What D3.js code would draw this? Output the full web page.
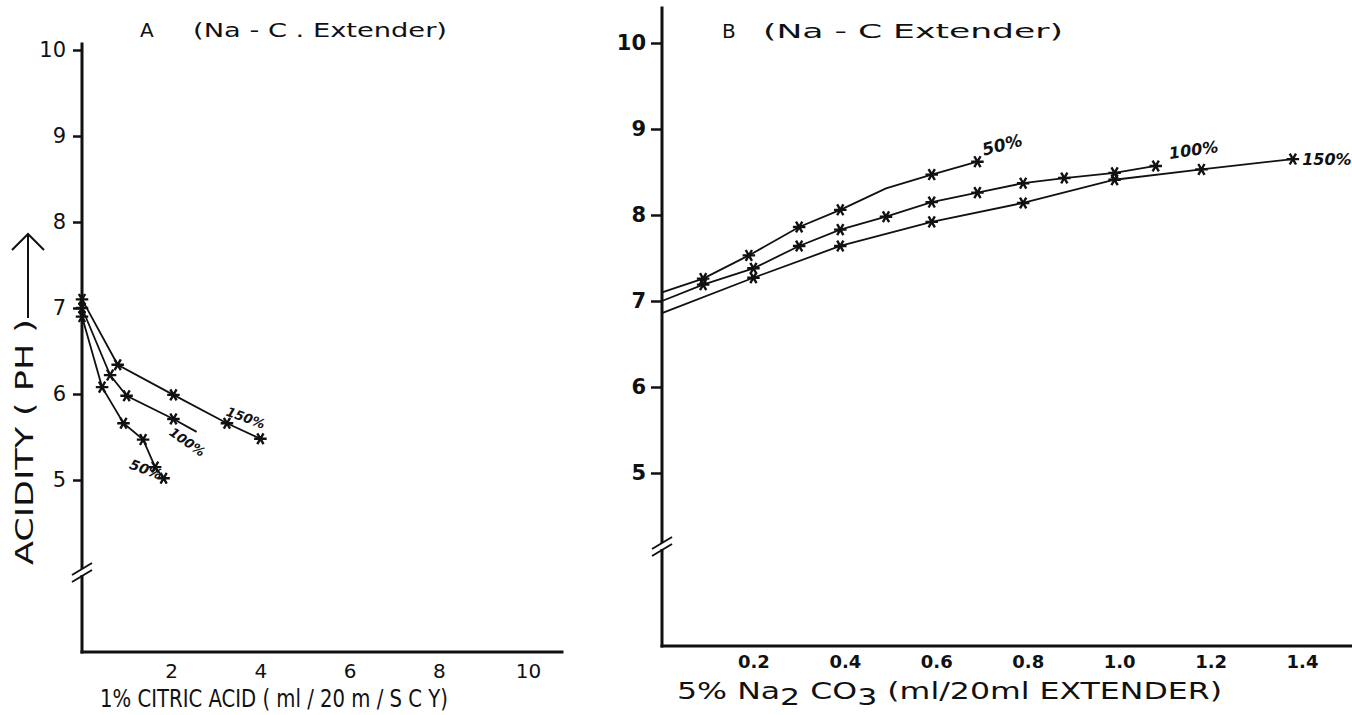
<!DOCTYPE html>
<html>
<head>
<meta charset="utf-8">
<script src="https://cdn.jsdelivr.net/npm/d3@7"></script>
<style>
  body { margin: 0; background: #fff; }
  svg { display: block; }
  text { font-family: "DejaVu Sans", sans-serif; fill: #111; }
</style>
</head>
<body>
<svg id="chart" width="1352" height="715"></svg>
<script>
// ---- data ----
// panel A : 1% citric acid added, pH per dilution
var citricX150 = [0, 0.8, 2.05, 3.25, 4.0];
var citricPH150 = [7.1, 6.34, 5.99, 5.66, 5.48];
var citricX100 = [0, 0.63, 1.0, 2.05, 2.57];
var citricPH100 = [7.0, 6.22, 5.98, 5.71, 5.56];
var citricX50 = [0, 0.45, 0.93, 1.37, 1.64, 1.83];
var citricPH50 = [6.9, 6.08, 5.66, 5.47, 5.15, 5.02];

// panel B : 5% Na2CO3 added
var sodaX50 = [0, 0.09, 0.19, 0.30, 0.39, 0.49, 0.59, 0.69];
var sodaPH50 = [7.1, 7.26, 7.53, 7.86, 8.06, 8.31, 8.47, 8.62];
var sodaX100 = [0, 0.09, 0.2, 0.3, 0.39, 0.49, 0.59, 0.69, 0.79, 0.88, 0.99, 1.08];
var sodaPH100 = [7.0, 7.19, 7.38, 7.64, 7.83, 7.98, 8.15, 8.26, 8.37, 8.43, 8.49, 8.57];
var sodaX150 = [0, 0.2, 0.39, 0.59, 0.79, 0.99, 1.18, 1.38];
var sodaPH150 = [6.86, 7.27, 7.64, 7.92, 8.14, 8.41, 8.53, 8.65];

var phTicks = [5, 6, 7, 8, 9, 10];
var citricTicks = [2, 4, 6, 8, 10];
var sodaTicks = [0.2, 0.4, 0.6, 0.8, 1.0, 1.2, 1.4];

var svg = d3.select("#chart");
var ink = "#111";

// scales
var xA = d3.scaleLinear().domain([0, 10]).range([82, 528]);
var yA = d3.scaleLinear().domain([5, 10]).range([480, 50]);
var xB = d3.scaleLinear().domain([0, 1.4]).range([662, 1302]);
var yB = d3.scaleLinear().domain([5, 10]).range([473, 43]);

function axisLine(x1, y1, x2, y2) {
  svg.append("line")
    .attr("x1", x1).attr("y1", y1).attr("x2", x2).attr("y2", y2)
    .attr("stroke", ink).attr("stroke-width", 3).attr("stroke-linecap", "square");
}

function breakMark(x, y) {
  svg.append("rect").attr("x", x - 3).attr("y", y - 3).attr("width", 6).attr("height", 6).attr("fill", "#fff");
  [-3, 4].forEach(function(o) {
    svg.append("line")
      .attr("x1", x - 10).attr("y1", y + o + 6).attr("x2", x + 10).attr("y2", y + o - 6)
      .attr("stroke", ink).attr("stroke-width", 2);
  });
}

function styleAxis(g, size, weight) {
  g.select(".domain").remove();
  g.selectAll("text").attr("font-family", "DejaVu Sans, sans-serif")
    .attr("font-size", size).attr("font-weight", weight).attr("fill", ink);
  g.selectAll("line").attr("stroke", ink).attr("stroke-width", 2.5);
}

function drawSeries(xs, ys, sx, sy, skip) {
  var pts = xs.map(function(v, i) { return [v, ys[i]]; });
  var line = d3.line()
    .x(function(d) { return sx(d[0]); })
    .y(function(d) { return sy(d[1]); });
  svg.append("path").datum(pts)
    .attr("d", line).attr("fill", "none").attr("stroke", ink).attr("stroke-width", 1.8);
  svg.append("g").selectAll("path")
    .data(pts.filter(function(d, i) { return skip.indexOf(i) < 0; }))
    .enter().append("path")
    .attr("d", d3.symbol().type(d3.symbolAsterisk).size(110))
    .attr("transform", function(d) { return "translate(" + sx(d[0]) + "," + sy(d[1]) + ") rotate(30)"; })
    .attr("fill", "none").attr("stroke", ink).attr("stroke-width", 2.4);
  return pts[pts.length - 1];
}

function seriesLabel(txt, pt, sx, sy, dx, dy, rot, size) {
  svg.append("text")
    .attr("transform", "translate(" + (sx(pt[0]) + dx) + "," + (sy(pt[1]) + dy) + ") rotate(" + rot + ")")
    .attr("text-anchor", "middle").attr("dominant-baseline", "middle")
    .attr("font-size", size).attr("font-weight", "bold").attr("font-style", "italic")
    .text(txt);
}

// ---------- panel A ----------
axisLine(xA(0), 44, xA(0), 652);
axisLine(xA(0), 652, 562, 652);
breakMark(xA(0), 572);

svg.append("g")
  .attr("transform", "translate(" + xA(0) + ",0)")
  .call(d3.axisLeft(yA).tickValues(phTicks).tickFormat(d3.format("d")).tickSize(9).tickPadding(7))
  .call(styleAxis, 21, "normal");

svg.append("g")
  .attr("transform", "translate(0,652)")
  .call(d3.axisBottom(xA).tickValues(citricTicks).tickFormat(d3.format("d")).tickSize(0).tickPadding(12))
  .call(styleAxis, 20, "normal");

var endA150 = drawSeries(citricX150, citricPH150, xA, yA, []);
var endA100 = drawSeries(citricX100, citricPH100, xA, yA, [4]);
var endA50 = drawSeries(citricX50, citricPH50, xA, yA, []);
seriesLabel("150%", endA150, xA, yA, -15, -20, 20, 13);
seriesLabel("100%", endA100, xA, yA, -10, 11, 35, 13);
seriesLabel("50%", endA50, xA, yA, -18, -8, 20, 14);

svg.append("text").attr("x", 140).attr("y", 37).attr("font-size", 20).text("A");
svg.append("text").attr("x", 193).attr("y", 37).attr("font-size", 20)
  .attr("textLength", 254).attr("lengthAdjust", "spacingAndGlyphs")
  .text("(Na - C . Extender)");

svg.append("text").attr("x", 100).attr("y", 707).attr("font-size", 25)
  .attr("textLength", 348).attr("lengthAdjust", "spacingAndGlyphs")
  .text("1%  CITRIC  ACID ( ml / 20 m / S C Y)");

// y label with upward arrow
svg.append("text")
  .attr("transform", "translate(33,565) rotate(-90)")
  .attr("font-size", 24)
  .attr("textLength", 246).attr("lengthAdjust", "spacingAndGlyphs")
  .text("ACIDITY  ( PH )");
svg.append("path")
  .attr("d", "M28,318 L28,234 M12,250 L28,234 L44,250")
  .attr("fill", "none").attr("stroke", ink).attr("stroke-width", 2);

// ---------- panel B ----------
axisLine(xB(0), 8, xB(0), 646);
axisLine(xB(0), 646, 1352, 646);
breakMark(xB(0), 546);

svg.append("g")
  .attr("transform", "translate(" + xB(0) + ",0)")
  .call(d3.axisLeft(yB).tickValues(phTicks).tickFormat(d3.format("d")).tickSize(11).tickPadding(5))
  .call(styleAxis, 21, "bold");

svg.append("g")
  .attr("transform", "translate(0,646)")
  .call(d3.axisBottom(xB).tickValues(sodaTicks).tickFormat(d3.format(".1f")).tickSize(0).tickPadding(9))
  .call(styleAxis, 18, "bold");

var endB50 = drawSeries(sodaX50, sodaPH50, xB, yB, [0, 5]);
var endB100 = drawSeries(sodaX100, sodaPH100, xB, yB, [0]);
var endB150 = drawSeries(sodaX150, sodaPH150, xB, yB, [0]);
seriesLabel("50%", endB50, xB, yB, 25, -16, -15, 17);
seriesLabel("100%", endB100, xB, yB, 38, -15, -8, 16);
seriesLabel("150%", endB150, xB, yB, 34, 1, 0, 16);

svg.append("text").attr("x", 722).attr("y", 38).attr("font-size", 20).text("B");
svg.append("text").attr("x", 763).attr("y", 38).attr("font-size", 20)
  .attr("textLength", 300).attr("lengthAdjust", "spacingAndGlyphs")
  .text("(Na - C  Extender)");

var bt = svg.append("text").attr("x", 677).attr("y", 699).attr("font-size", 23)
  .attr("textLength", 545).attr("lengthAdjust", "spacingAndGlyphs");
bt.append("tspan").text("5%  Na");
bt.append("tspan").attr("dy", 6).text("2");
bt.append("tspan").attr("dy", -6).text(" CO");
bt.append("tspan").attr("dy", 6).text("3");
bt.append("tspan").attr("dy", -6).text("   (ml/20ml  EXTENDER)");
</script>
</body>
</html>
